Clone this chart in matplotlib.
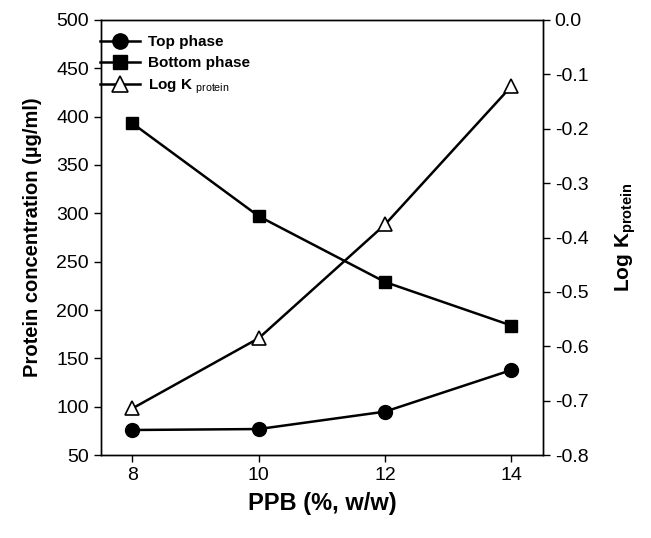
import matplotlib
matplotlib.use("Agg")
import matplotlib.pyplot as plt

plt.rcParams['font.family'] = ['Liberation Sans', 'DejaVu Sans']
plt.rcParams['mathtext.fontset'] = 'custom'
plt.rcParams['mathtext.rm'] = 'Liberation Sans'
plt.rcParams['mathtext.bf'] = 'Liberation Sans:bold'

ppb = [8, 10, 12, 14]
top_phase = [76, 77, 95, 138]
bottom_phase = [393, 297, 229, 184]
log_k = [-0.714, -0.585, -0.376, -0.122]

left_ticks = [50, 100, 150, 200, 250, 300, 350, 400, 450, 500]
right_ticks = [-0.8, -0.7, -0.6, -0.5, -0.4, -0.3, -0.2, -0.1, 0.0]

fig = plt.figure(figsize=(6.51, 5.38), dpi=100)
ax = fig.add_axes([0.155, 0.154, 0.679, 0.809])
ax2 = ax.twinx()

l1, = ax.plot(ppb, top_phase, color='black', lw=1.8, marker='o', ms=10,
              label='Top phase')
l2, = ax.plot(ppb, bottom_phase, color='black', lw=1.8, marker='s', ms=9,
              label='Bottom phase')
l3, = ax2.plot(ppb, log_k, color='black', lw=1.8, marker='^', ms=10,
               markerfacecolor='white', markeredgecolor='black', mew=1.2,
               label=r'Log K $_{\mathrm{protein}}$')

ax.set_xlim(7.5, 14.5)
ax.set_ylim(50, 500)
ax2.set_ylim(-0.8, 0.0)
ax.set_xticks(ppb)
ax.set_yticks(left_ticks)
ax2.set_yticks(right_ticks)
ax2.set_yticklabels([f"{t:.1f}" for t in right_ticks])

for a in (ax, ax2):
    a.tick_params(direction='out', length=5, width=1, labelsize=14)
    for s in a.spines.values():
        s.set_linewidth(1)

ax.set_xlabel('PPB (%, w/w)', fontsize=17, fontweight='bold', labelpad=6)
ax.set_ylabel('Protein concentration (µg/ml)', fontsize=14.5,
              fontweight='bold', labelpad=10)
ax2.set_ylabel(r'Log K$_{\mathbf{protein}}$', fontsize=15,
               fontweight='bold', labelpad=18)

leg = ax2.legend(handles=[l1, l2, l3], loc='upper left',
                 bbox_to_anchor=(-0.012, 0.975), frameon=False,
                 fontsize=11, handlelength=2.6, handletextpad=0.5,
                 borderaxespad=0.0, borderpad=0.3, labelspacing=0.45,
                 markerscale=1.1)
for t in leg.get_texts():
    t.set_fontweight('bold')

fig.savefig('out.png', dpi=100)
